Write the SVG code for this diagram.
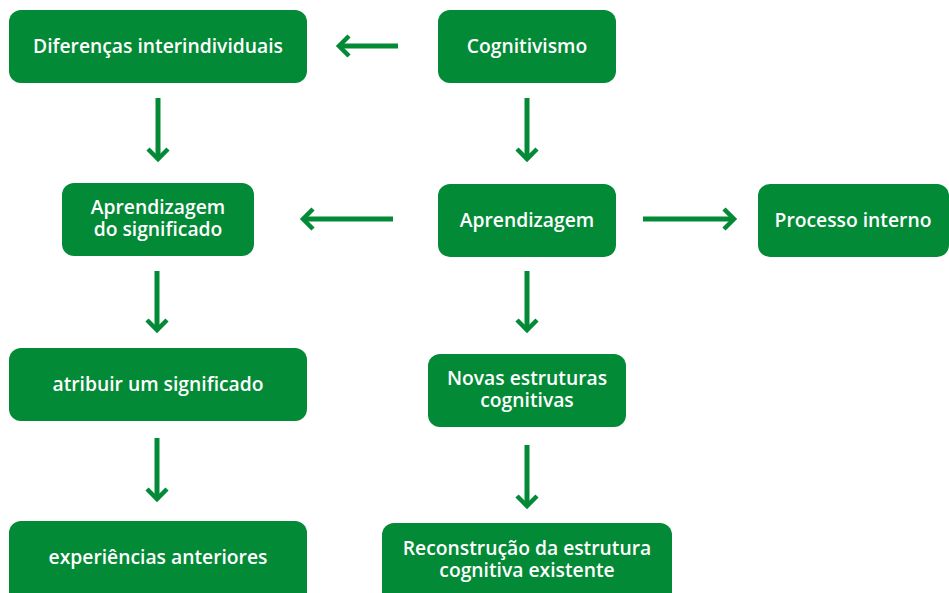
<svg xmlns="http://www.w3.org/2000/svg" width="949" height="593" viewBox="0 0 949 593">
<defs>
<style>
.box{fill:#038a36;}
.t{fill:#fff;font-family:"Open Sans","Noto Sans","Liberation Sans",sans-serif;font-weight:600;font-size:19.3px;text-anchor:middle;}
.c{stroke:#038a36;stroke-width:5;fill:none;}
.h{stroke:#038a36;stroke-width:4.5;fill:none;stroke-linejoin:miter;}
</style>
</defs>
<rect width="949" height="593" fill="#fff"/>
<g id="n1"><rect class="box" x="9" y="10" width="298" height="73" rx="12"/><text class="t" x="158" y="53">Diferenças interindividuais</text></g>
<g id="n2"><rect class="box" x="438" y="10" width="178" height="73" rx="12"/><text class="t" x="527" y="53">Cognitivismo</text></g>
<g id="n3"><rect class="box" x="62" y="183" width="192" height="73" rx="12"/><text class="t" x="158" y="213.5">Aprendizagem<tspan x="158" dy="22.5">do significado</tspan></text></g>
<g id="n4"><rect class="box" x="438" y="184" width="178" height="73" rx="12"/><text class="t" x="527" y="227">Aprendizagem</text></g>
<g id="n5"><rect class="box" x="758" y="184" width="191" height="73" rx="12"/><text class="t" x="853" y="227">Processo interno</text></g>
<g id="n6"><rect class="box" x="9" y="348" width="298" height="73" rx="12"/><text class="t" x="158" y="391">atribuir um significado</text></g>
<g id="n7"><rect class="box" x="428" y="354" width="198" height="73" rx="12"/><text class="t" x="527" y="384.5">Novas estruturas<tspan x="527" dy="22.5">cognitivas</tspan></text></g>
<g id="n8"><rect class="box" x="9" y="521" width="298" height="90" rx="12"/><text class="t" x="158" y="564">experiências anteriores</text></g>
<g id="n9"><rect class="box" x="382" y="523" width="290" height="90" rx="12"/><text class="t" x="527" y="554.5">Reconstrução da estrutura<tspan x="527" dy="22.5">cognitiva existente</tspan></text></g>
<g id="connectors">
<path class="c" d="M158 98V158"/><path class="h" d="M148 149L158 159L168 149"/>
<path class="c" d="M527 98V158"/><path class="h" d="M517 149L527 159L537 149"/>
<path class="c" d="M398 46H341"/><path class="h" d="M349 36L339 46L349 56"/>
<path class="c" d="M393 219H305"/><path class="h" d="M313 209L303 219L313 229"/>
<path class="c" d="M643 219H732"/><path class="h" d="M724 209L734 219L724 229"/>
<path class="c" d="M157 271V329"/><path class="h" d="M147 320L157 330L167 320"/>
<path class="c" d="M527 271V329"/><path class="h" d="M517 320L527 330L537 320"/>
<path class="c" d="M157 438V498"/><path class="h" d="M147 489L157 499L167 489"/>
<path class="c" d="M527 445V505"/><path class="h" d="M517 496L527 506L537 496"/>
</g>
</svg>
